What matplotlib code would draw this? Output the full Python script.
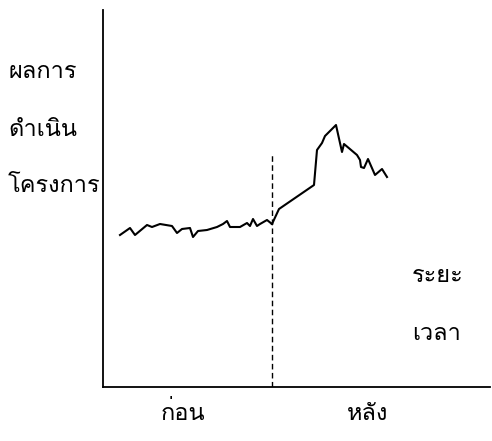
import matplotlib
matplotlib.use("Agg")
import matplotlib.pyplot as plt
from matplotlib import font_manager
from matplotlib.ft2font import FT2Font

# before / after series (x = time, y = performance)
before_x = [17, 27, 32, 44, 49, 57, 69, 74, 79, 87, 90, 95, 104, 114, 120, 124, 127, 137, 144, 147, 150, 154, 157, 164, 169]
before_y = [152, 159, 152, 162, 160, 163, 161, 154, 158, 159, 150, 156, 157, 160, 163, 166, 160, 160, 164, 161, 168, 161, 163, 167, 163]
after_x = [169, 176, 211, 214, 219, 222, 224, 230, 233, 239, 241, 254, 257, 258, 261, 265, 272, 279, 284]
after_y = [163, 178, 202, 237, 244, 251, 253, 259, 262, 235, 243, 232, 227, 220, 219, 228, 212, 218, 210]
cut_x = 169

y_labels = ["ผลการ", "ดำเนิน", "โครงการ"]
x_axis_label = ["ระยะ", "เวลา"]
period_labels = ["ก่อน", "หลัง"]


def thai_font():
    for f in font_manager.fontManager.ttflist:
        try:
            if 0x0E01 in FT2Font(f.fname).get_charmap():
                return f.name
        except Exception:
            pass
    return "DejaVu Sans"


plt.rcParams["font.family"] = [thai_font(), "DejaVu Sans"]

fig = plt.figure(figsize=(4.92, 4.41), dpi=100)
ax = fig.add_axes([103 / 492, 54 / 441, 387 / 492, 377 / 441])
ax.set_xlim(0, 387)
ax.set_ylim(0, 377)

ax.plot(before_x, before_y, color="black", lw=1.5)
ax.plot(after_x, after_y, color="black", lw=1.5)
ax.plot([cut_x, cut_x], [0, 232], color="black", lw=1.0, ls=(0, (4, 2.5)))

for s in ["top", "right"]:
    ax.spines[s].set_visible(False)
ax.spines["left"].set_linewidth(1.3)
ax.spines["bottom"].set_linewidth(1.3)
ax.set_xticks([]); ax.set_yticks([])

# labels
for i, t in enumerate(y_labels):
    fig.text(8 / 492, 1 - (72 + 57 * i) / 441, t, fontsize=17, va="center", ha="left")
for i, t in enumerate(x_axis_label):
    fig.text(412 / 492, 1 - (275 + 58 * i) / 441, t, fontsize=17, va="center", ha="left")
fig.text(183 / 492, 1 - 413 / 441, period_labels[0], fontsize=17, va="center", ha="center")
fig.text(368 / 492, 1 - 413 / 441, period_labels[1], fontsize=17, va="center", ha="center")

fig.savefig("out.png", dpi=100)
